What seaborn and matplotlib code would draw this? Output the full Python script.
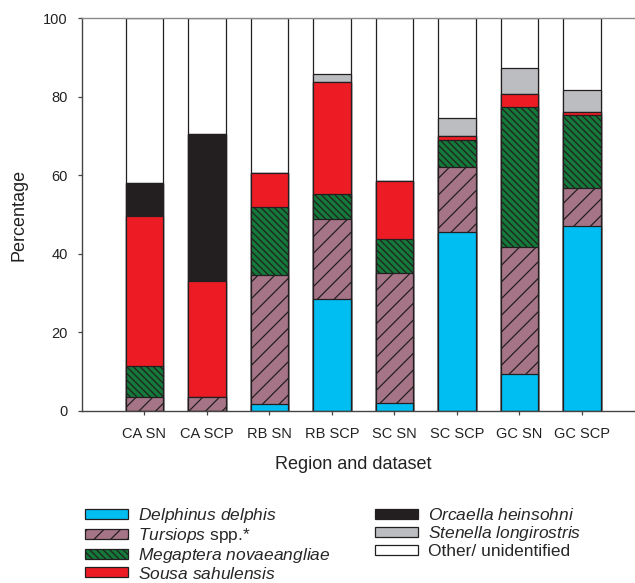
import numpy as np
import pandas as pd
import seaborn as sns
import matplotlib.pyplot as plt
from matplotlib.patches import Patch

# -----------------------------
# Data (percent of sightings)
# -----------------------------
DATASETS = ["CA SN", "CA SCP", "RB SN", "RB SCP", "SC SN", "SC SCP", "GC SN", "GC SCP"]

delphinus = [0.0, 0.0, 1.7, 28.4, 2.0, 45.5, 9.5, 47.0]
tursiops = [3.6, 3.5, 32.8, 20.5, 33.0, 16.7, 32.3, 9.7]
megaptera = [7.9, 0.0, 17.4, 6.2, 8.7, 6.7, 35.6, 18.5]
sousa = [38.2, 29.6, 8.6, 28.6, 14.7, 1.1, 3.3, 0.9]
orcaella = [8.2, 37.4, 0.0, 0.0, 0.0, 0.0, 0.0, 0.0]
stenella = [0.0, 0.0, 0.0, 2.1, 0.0, 4.5, 6.5, 5.7]
other = [42.1, 29.5, 39.5, 14.2, 41.6, 25.5, 12.8, 18.2]

SPECIES = [
    "Delphinus delphis",
    "Tursiops spp.*",
    "Megaptera novaeangliae",
    "Sousa sahulensis",
    "Orcaella heinsohni",
    "Stenella longirostris",
    "Other/ unidentified",
]
VALUES = [delphinus, tursiops, megaptera, sousa, orcaella, stenella, other]

# legend labels (italic genus names, plain suffixes)
LEGEND_LABELS = [
    r"$\it{Delphinus\ delphis}$",
    r"$\it{Tursiops}$ spp.*",
    r"$\it{Megaptera\ novaeangliae}$",
    r"$\it{Sousa\ sahulensis}$",
    r"$\it{Orcaella\ heinsohni}$",
    r"$\it{Stenella\ longirostris}$",
    "Other/ unidentified",
]

# -----------------------------
# Style
# -----------------------------
sns.set_style("ticks")
plt.rcParams["font.family"] = ["Liberation Sans", "DejaVu Sans"]
plt.rcParams["mathtext.fontset"] = "custom"
plt.rcParams["mathtext.it"] = "Liberation Sans:italic"
plt.rcParams["mathtext.rm"] = "Liberation Sans"
plt.rcParams["hatch.linewidth"] = 0.9

EDGE = "#231F20"
STYLES = {
    "Delphinus delphis": dict(color="#00BDF2", hatch=None),
    "Tursiops spp.*": dict(color="#A57587", hatch="//"),
    "Megaptera novaeangliae": dict(color="#137A3A", hatch="\\" * 5),
    "Sousa sahulensis": dict(color="#ED1C24", hatch=None),
    "Orcaella heinsohni": dict(color="#231F20", hatch=None),
    "Stenella longirostris": dict(color="#BBBDC0", hatch=None),
    "Other/ unidentified": dict(color="#FFFFFF", hatch=None),
}

# -----------------------------
# Build long table + cumulative tops
# -----------------------------
df = pd.DataFrame({"dataset": np.repeat(DATASETS, len(SPECIES)),
                   "species": SPECIES * len(DATASETS)})
df["value"] = [VALUES[SPECIES.index(s)][DATASETS.index(d)]
               for d, s in zip(df["dataset"], df["species"])]
df["top"] = df.groupby("dataset", sort=False)["value"].cumsum()

fig = plt.figure(figsize=(6.35, 5.83), dpi=100)
ax = fig.add_axes([82 / 635, 1 - 411 / 583, 1 - 82 / 635, (411 - 18) / 583])

# draw from the top layer down so each lower segment covers the one above
for sp in reversed(SPECIES):
    sub = df[df["species"] == sp]
    st = STYLES[sp]
    sns.barplot(
        data=sub, x="dataset", y="top", order=DATASETS,
        color=st["color"], saturation=1, width=0.6, errorbar=None,
        edgecolor=EDGE, linewidth=0.9, hatch=st["hatch"], ax=ax,
    )

ax.set_xlim(-0.997, 7.85)
ax.set_ylim(0, 100)
ax.set_yticks([0, 20, 40, 60, 80, 100])

ax.spines["right"].set_visible(False)
ax.spines["top"].set_color("#8a8a8a")
ax.spines["left"].set_color("#444444")
ax.spines["bottom"].set_color("#444444")
for s in ["top", "left", "bottom"]:
    ax.spines[s].set_linewidth(1.0)

ax.tick_params(axis="both", direction="out", length=3.2, width=0.9,
               color="#444444", labelsize=10.5, labelcolor="#222222")
ax.tick_params(axis="y", pad=7)
ax.tick_params(axis="x", pad=8)

ax.set_xlabel("Region and dataset", fontsize=13, color="#222222")
ax.set_ylabel("Percentage", fontsize=13, color="#222222")
ax.xaxis.set_label_coords(0.49, -0.115)
ax.yaxis.set_label_coords(-0.098, 0.5)

handles = [Patch(facecolor=STYLES[s]["color"], hatch=STYLES[s]["hatch"],
                 edgecolor=EDGE, linewidth=0.9) for s in SPECIES]
fig.legend(
    handles, LEGEND_LABELS, ncol=2, frameon=False, fontsize=12.5,
    loc="upper left", bbox_to_anchor=(85 / 635, 1 - 506 / 583),
    borderaxespad=0, borderpad=0, handlelength=2.5, handleheight=0.5,
    handletextpad=0.55, columnspacing=2.55, labelspacing=0.05,
)

fig.savefig("out.png", dpi=100)
